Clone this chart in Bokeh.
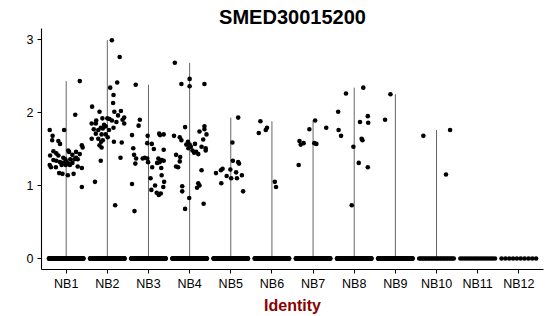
import numpy as np
from bokeh.plotting import figure
from bokeh.models import Range1d, FixedTicker
from bokeh.embed import file_html
from bokeh.resources import INLINE

title_text = "SMED30015200"
x_title = "Identity"
categories = ["NB1", "NB2", "NB3", "NB4", "NB5", "NB6",
              "NB7", "NB8", "NB9", "NB10", "NB11", "NB12"]
y_ticks = [0, 1, 2, 3]

# non-zero expression values per identity, with the horizontal jitter
nb1_vals = [2.43, 1.97, 1.76, 1.76, 1.68, 1.62, 1.61, 1.57, 1.55, 1.52, 1.47, 1.48, 1.46, 1.46, 1.44,
            1.41, 1.41, 1.42, 1.43, 1.38, 1.38, 1.35, 1.36, 1.36, 1.36, 1.36, 1.28, 1.34, 1.32, 1.32,
            1.31, 1.30, 1.31, 1.25, 1.25, 1.28, 1.28, 1.28, 1.26, 1.24, 1.17, 1.16, 1.14, 1.16, 0.98]
nb1_jit = [0.33, 0.22, -0.40, -0.05, -0.33, -0.34, -0.19, -0.15, 0.38, 0.40, -0.31, 0.05, 0.07, 0.24, -0.24,
           -0.39, -0.19, 0.15, 0.33, -0.07, 0.24, -0.31, -0.02, 0.10, 0.20, 0.28, -0.40, -0.24, -0.15, 0.01,
           -0.07, 0.06, 0.15, -0.37, -0.25, -0.11, -0.01, 0.09, 0.28, 0.38, -0.17, -0.09, 0.04, 0.18, 0.38]

nb2_vals = [2.99, 2.76, 2.41, 2.34, 2.24, 2.13, 2.08, 2.02, 2.01, 2.01, 1.96, 1.93, 1.92, 1.92, 1.91,
            1.90, 1.89, 1.89, 1.87, 1.85, 1.85, 1.83, 1.81, 1.79, 1.85, 1.77, 1.76, 1.78, 1.76, 1.79,
            1.71, 1.70, 1.70, 1.64, 1.64, 1.62, 1.66, 1.60, 1.60, 1.59, 1.55, 1.52, 1.38, 1.34, 1.05, 0.73]
nb2_jit = [0.11, 0.30, 0.24, 0.07, 0.15, 0.14, -0.37, 0.33, -0.19, 0.17, 0.26, 0.41, -0.12, 0.00, 0.05,
           0.37, -0.27, 0.11, 0.22, -0.38, -0.28, -0.08, -0.04, -0.16, 0.41, -0.33, -0.22, -0.11, 0.04, 0.15,
           -0.28, -0.14, -0.04, -0.22, -0.38, -0.11, 0.01, -0.15, 0.16, 0.35, -0.19, -0.14, 0.32, -0.16, -0.30, 0.19]

nb3_vals = [2.38, 1.90, 1.82, 1.69, 1.68, 1.71, 1.69, 1.70, 1.58, 1.57, 1.51, 1.50, 1.49, 1.42, 1.37,
            1.37, 1.38, 1.37, 1.37, 1.35, 1.34, 1.30, 1.32, 1.31, 1.32, 1.25, 1.24, 1.14, 1.10, 1.05,
            1.02, 1.00, 0.98, 0.94, 0.90, 0.89, 0.87, 0.65]
nb3_jit = [-0.31, -0.21, -0.24, -0.40, -0.02, 0.26, 0.28, 0.37, -0.03, 0.08, -0.37, 0.13, 0.37, -0.35, -0.30,
           -0.14, -0.09, -0.03, 0.24, 0.32, 0.37, -0.32, -0.01, 0.21, 0.27, 0.09, 0.31, 0.32, 0.05, 0.38,
           -0.40, 0.16, 0.36, 0.07, 0.20, 0.30, 0.25, -0.34]

nb4_vals = [2.68, 2.46, 2.39, 2.36, 2.39, 1.80, 1.81, 1.77, 1.74, 1.70, 1.68, 1.66, 1.62, 1.63, 1.60,
            1.57, 1.56, 1.56, 1.53, 1.53, 1.51, 1.48, 1.51, 1.48, 1.45, 1.46, 1.43, 1.42, 1.39, 1.33,
            1.26, 1.25, 1.21, 1.03, 1.00, 0.97, 0.99, 0.92, 0.83, 0.75, 0.68]
nb4_jit = [-0.36, 0.00, -0.20, 0.00, 0.36, -0.11, 0.36, 0.36, 0.24, 0.41, -0.38, -0.24, -0.20, 0.33, -0.04,
           0.13, -0.08, 0.00, 0.03, 0.29, 0.39, 0.39, -0.03, 0.07, 0.11, 0.16, 0.21, -0.33, -0.23, -0.24,
           -0.33, -0.28, 0.29, 0.21, 0.24, 0.18, -0.18, -0.18, -0.01, 0.34, -0.11]

nb5_vals = [1.93, 1.59, 1.34, 1.32, 1.30, 1.23, 1.21, 1.22, 1.17, 1.18, 1.13, 1.14, 1.10, 1.10, 1.03, 0.92]
nb5_jit = [0.18, 0.04, 0.05, 0.18, 0.20, -0.20, -0.24, -0.01, -0.36, 0.13, -0.10, 0.27, 0.01, 0.15, -0.23, 0.30]

nb6_vals = [1.88, 1.79, 1.76, 1.72, 1.05, 0.98]
nb6_jit = [-0.28, -0.12, -0.15, -0.32, 0.07, 0.10]

nb7_vals = [1.89, 1.77, 1.79, 1.61, 1.58, 1.56, 1.58, 1.57, 1.28]
nb7_jit = [0.05, -0.09, 0.32, -0.33, -0.23, -0.30, 0.03, 0.08, -0.35]

nb8_vals = [2.34, 2.26, 2.01, 1.95, 1.87, 1.86, 1.76, 1.68, 1.64, 1.62, 1.53, 1.31, 1.25, 0.73]
nb8_jit = [0.22, -0.20, -0.39, 0.33, 0.14, 0.34, -0.38, -0.32, 0.18, 0.20, -0.02, 0.11, 0.33, -0.06]

nb9_vals = [2.25, 1.90]
nb9_jit = [-0.12, -0.25]

nb10_vals = [1.76, 1.68, 1.15]
nb10_jit = [0.33, -0.32, 0.23]

nb11_vals = []
nb11_jit = []
nb12_vals = []
nb12_jit = []

# number of cells with zero expression in each identity
zero_counts = [150, 150, 150, 150, 150, 120, 130, 130, 120, 24, 16, 10]

values_by_group = [nb1_vals, nb2_vals, nb3_vals, nb4_vals, nb5_vals, nb6_vals,
                   nb7_vals, nb8_vals, nb9_vals, nb10_vals, nb11_vals, nb12_vals]
jitter_by_group = [nb1_jit, nb2_jit, nb3_jit, nb4_jit, nb5_jit, nb6_jit,
                   nb7_jit, nb8_jit, nb9_jit, nb10_jit, nb11_jit, nb12_jit]

FONT = "Liberation Sans"

p = figure(width=550, height=316, output_backend="svg", toolbar_location=None,
           x_range=Range1d(0.4, 12.6), y_range=Range1d(-0.15, 3.15),
           min_border_left=41, min_border_right=7, min_border_top=28, min_border_bottom=47)
p.background_fill_color = "white"
p.border_fill_color = "white"
p.outline_line_color = None
p.grid.visible = False

p.title.text = title_text
p.title.align = "center"
p.title.text_font = FONT
p.title.text_font_size = "20px"
p.title.text_font_style = "bold"
p.title.text_color = "black"
p.title.standoff = 2
p.title.offset = 0

# violins (collapsed to lines because most cells are zero)
vx, vtop = [], []
for i, vals in enumerate(values_by_group):
    if len(vals) > 0:
        vx.append(i + 1)
        vtop.append(max(vals))
p.segment(x0=vx, y0=[0] * len(vx), x1=vx, y1=vtop, line_color="#666666", line_width=1)

# points
px, py = [], []
for i, (vals, jit) in enumerate(zip(values_by_group, jitter_by_group)):
    n0 = zero_counts[i]
    offs = np.linspace(-0.42, 0.42, n0)
    px.extend(list(i + 1 + offs))
    py.extend([0.0] * n0)
    px.extend([i + 1 + j for j in jit])
    py.extend(vals)
p.scatter(x=px, y=py, size=4.6, fill_color="black", line_color="black", line_width=0)

for ax in (p.xaxis[0], p.yaxis[0]):
    ax.axis_line_color = "black"
    ax.axis_line_width = 1.1
    ax.major_tick_line_color = "black"
    ax.major_tick_in = 0
    ax.major_tick_out = 4
    ax.minor_tick_line_color = None
    ax.major_label_text_font = FONT
    ax.major_label_text_font_size = "12.5px"
    ax.major_label_text_color = "black"
    ax.major_label_standoff = 3

p.xaxis.ticker = FixedTicker(ticks=list(range(1, len(categories) + 1)))
p.xaxis.major_label_overrides = {i + 1: c for i, c in enumerate(categories)}
p.xaxis.axis_label = x_title
p.xaxis.axis_label_text_font = FONT
p.xaxis.axis_label_text_font_size = "16px"
p.xaxis.axis_label_text_font_style = "bold"
p.xaxis.axis_label_text_color = "#8B0000"
p.xaxis.axis_label_standoff = 3

p.yaxis.ticker = FixedTicker(ticks=y_ticks)
p.yaxis.major_label_standoff = 4

open("out.html", "w").write(file_html(p, INLINE))
